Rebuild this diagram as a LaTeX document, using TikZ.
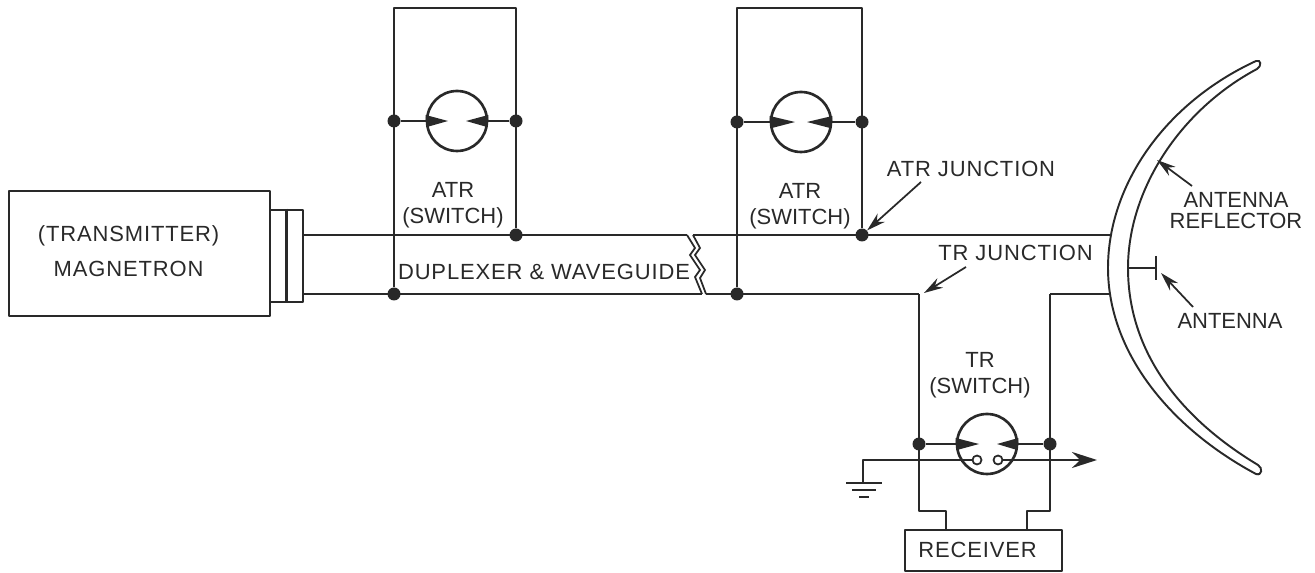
\documentclass[tikz,border=0pt]{standalone}
\usepackage{fontspec}
\setmainfont{Liberation Sans}
\usetikzlibrary{arrows.meta}
\definecolor{inkdark}{gray}{0.16}
\tikzset{
    wire/.style={line width=1.5pt, draw=inkdark, line join=round},
    thinwire/.style={line width=1pt, draw=inkdark},
    dot/.style={circle, fill=inkdark, inner sep=0pt, minimum size=0.26cm},
    tube/.style={circle, draw=inkdark, line width=1.5pt, inner sep=0pt, minimum size=1.2cm},
    gap/.style={circle, draw=inkdark, fill=white, line width=1pt, inner sep=0pt, minimum size=0.18cm},
    lab/.style={inkdark, inner sep=0pt, align=center, font=\fontsize{12.5}{14.7}\selectfont},
    spaced/.style={lab, font=\fontsize{12.5}{14.7}\selectfont\addfontfeature{LetterSpace=4}},
    callout/.style={thinwire, -{Stealth[length=0.38cm, width=0.22cm]}},
    signal/.style={wire, -{Stealth[length=0.5cm, width=0.32cm]}},
}
\begin{document}
\begin{tikzpicture}[x=0.02cm, y=-0.02cm]
    \useasboundingbox (0,0) rectangle (1315,573);

    % magnetron and flange
    \node[wire, draw, minimum width=5.22cm, minimum height=2.5cm, inner sep=0pt] (magbox) at (139.5,253.5) {};
    \node[wire, draw, minimum width=0.66cm, minimum height=1.84cm, inner sep=0pt] (flange) at (286.5,256) {};
    \draw[wire] (flange.north) -- (flange.south);
    \node[spaced] (txlab) at (128.5,236) {(TRANSMITTER)};
    \node[spaced] (maglab) at (128.5,269) {MAGNETRON};

    % waveguide corners
    \coordinate (wgtl) at (303,235);
    \coordinate (wgbl) at (303,294);
    \coordinate (breaktl) at (687,235);
    \coordinate (breakbl) at (702,294);
    \coordinate (breaktr) at (693,235);
    \coordinate (breakbr) at (706,294);

    % junction dots
    \node[dot] (atrabl) at (394,294) {};
    \node[dot] (atrabr) at (516,235) {};
    \node[dot] (atrbbl) at (737,294) {};
    \node[dot] (atrbbr) at (862,235) {};
    \coordinate (wgtr) at (1111,235);
    \coordinate (wgbr) at (1110,294);
    \coordinate (trtee) at (919,294);
    \coordinate (trrise) at (1050,294);

    \draw[wire] (wgtl) -- (breaktl);
    \draw[wire] (wgbl) -- (breakbl);
    \draw[wire] (breaktr) -- (wgtr);
    \draw[wire] (breakbr) -- (trtee);
    \draw[wire] (trrise) -- (wgbr);

    % waveguide break
    \draw[thinwire] (breaktl) -- (695,248) -- (690,255) -- (700,270) -- (695,277) -- (breakbl);
    \draw[thinwire] (breaktr) -- (700,248) -- (695,255) -- (705,270) -- (700,278) -- (breakbr);
    \node[spaced] (wglab) at (544,272) {DUPLEXER \& WAVEGUIDE};

    % first ATR
    \coordinate (atratl) at (394,8);
    \coordinate (atratr) at (516,8);
    \node[dot] (atraml) at (394,121) {};
    \node[dot] (atramr) at (516,121) {};
    \node[tube] (atratube) at (457,121) {};
    \draw[wire] (atrabl) -- (atratl) -- (atratr) -- (atrabr);
    \draw[wire] (atraml) -- (atratube.west);
    \draw[wire] (atramr) -- (atratube.east);
    \fill[inkdark] (atratube.west) -- ++(0,-6) -- (448,121) -- (427,127) -- cycle;
    \fill[inkdark] (atratube.east) -- ++(0,-6) -- (466,121) -- (487,127) -- cycle;
    \node[lab] (atralab) at (453,205) {ATR\\(SWITCH)};

    % second ATR
    \coordinate (atrbtl) at (737,8);
    \coordinate (atrbtr) at (862,8);
    \node[dot] (atrbml) at (737,122) {};
    \node[dot] (atrbmr) at (862,122) {};
    \node[tube] (atrbtube) at (801,122) {};
    \draw[wire] (atrbbl) -- (atrbtl) -- (atrbtr) -- (atrbbr);
    \draw[wire] (atrbml) -- (atrbtube.west);
    \draw[wire] (atrbmr) -- (atrbtube.east);
    \fill[inkdark] (atrbtube.west) -- ++(0,-6) -- (795,122) -- (772,128) -- cycle;
    \fill[inkdark] (atrbtube.east) -- ++(0,-6) -- (807,122) -- (830,128) -- cycle;
    \node[lab] (atrblab) at (800,206) {ATR\\(SWITCH)};

    % TR branch and receiver
    \node[wire, draw, minimum width=3.14cm, minimum height=0.82cm, inner sep=0pt] (rxbox) at (983.5,550.5) {};
    \node[spaced] (rxlab) at (977.5,550) {RECEIVER};
    \coordinate (rxinl) at (946,530);
    \coordinate (rxinr) at (1027,530);
    \node[dot] (trml) at (919,444) {};
    \node[dot] (trmr) at (1050,444) {};
    \node[tube] (trtube) at (987,444) {};
    \draw[wire] (trtee) -- (919,511) -- (946,511) -- (rxinl);
    \draw[wire] (trrise) -- (1050,511) -- (1027,511) -- (rxinr);
    \draw[wire] (trml) -- (trtube.west);
    \draw[wire] (trmr) -- (trtube.east);
    \fill[inkdark] (trtube.west) -- ++(0,-6) -- (979,444) -- (957,450) -- cycle;
    \fill[inkdark] (trtube.east) -- ++(0,-6) -- (997,444) -- (1017,450) -- cycle;
    \node[lab] (trlab) at (980,375) {TR\\(SWITCH)};

    % keep-alive line and earth
    \node[gap] (kaleft) at (977,460) {};
    \node[gap] (karight) at (998,460) {};
    \coordinate (gndtop) at (863,483);
    \coordinate (sigend) at (1097,460);
    \draw[wire] (gndtop) -- (863,460) -- (kaleft);
    \draw[signal] (karight) -- (sigend);
    \draw[wire] (846,483) -- (882,483);
    \draw[wire] (852,490) -- (876,490);
    \draw[wire] (859,497) -- (869,497);

    % reflector
    \draw[line width=1.1pt, draw=inkdark] (1256,61)
        .. controls (1165,103) and (1108,185) .. (1108,268)
        .. controls (1108,352) and (1170,428) .. (1256,474)
        .. controls (1262,476) and (1263,468) .. (1258,465)
        .. controls (1180,418) and (1128,352) .. (1128,268)
        .. controls (1128,190) and (1180,110) .. (1257,69)
        .. controls (1262,66) and (1261,59) .. (1256,61) -- cycle;

    % antenna
    \coordinate (antbase) at (1128,268);
    \coordinate (antfeed) at (1156,268);
    \draw[thinwire] (antbase) -- (antfeed);
    \draw[wire] (1156,256) -- (1156,280);

    % labels with pointers
    \node[spaced] (atrjlab) at (971,168.5) {ATR JUNCTION};
    \node[spaced] (trjlab) at (1015.5,252.5) {TR JUNCTION};
    \node[lab] (reflab) at (1236,210.5) {ANTENNA\\[-3pt]REFLECTOR};
    \node[lab] (antlab) at (1230,320.5) {ANTENNA};
    \coordinate (atrjtail) at (921,182);
    \coordinate (trjtail) at (966,267);
    \coordinate (reftail) at (1192,186);
    \coordinate (anttail) at (1193,307);
    \coordinate (reftip) at (1157,160);
    \coordinate (anttip) at (1161,273);
    \coordinate (trjtip) at (924,293);
    \draw[callout] (atrjtail) -- (atrbbr);
    \draw[callout] (trjtail) -- (trjtip);
    \draw[callout] (reftail) -- (reftip);
    \draw[callout] (anttail) -- (anttip);
\end{tikzpicture}
\end{document}
